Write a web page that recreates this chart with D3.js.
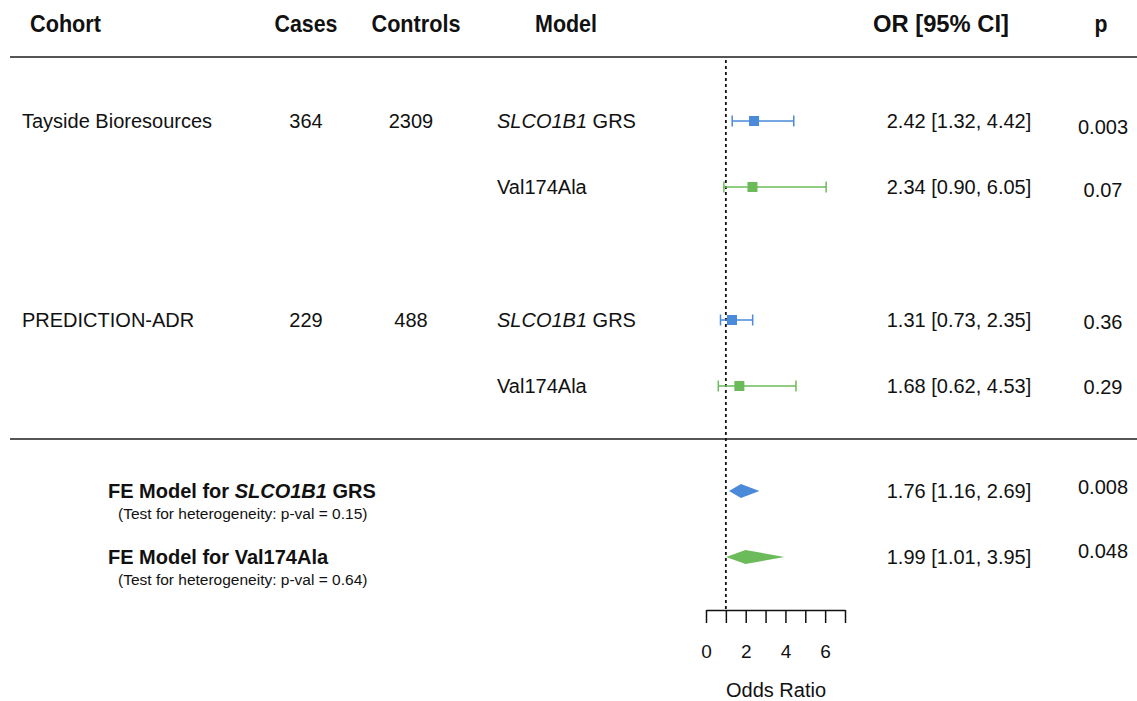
<!DOCTYPE html>
<html>
<head>
<meta charset="utf-8">
<script src="https://cdn.jsdelivr.net/npm/d3@7"></script>
<style>
  html, body { margin: 0; padding: 0; background: #fff; }
  svg { display: block; font-family: "Liberation Sans", Arial, sans-serif; }
</style>
</head>
<body>
<svg id="chart" width="1137" height="701"></svg>
<script>
// Study-level estimates (odds ratios with 95% CI)
const cohorts   = ["Tayside Bioresources", "", "PREDICTION-ADR", ""];
const cases     = ["364", "", "229", ""];
const controls  = ["2309", "", "488", ""];
const models    = ["GRS", "Val174Ala", "GRS", "Val174Ala"];
const orValues  = [2.42, 2.34, 1.31, 1.68];
const ciLower   = [1.32, 0.90, 0.73, 0.62];
const ciUpper   = [4.42, 6.05, 2.35, 4.53];
const pValues   = ["0.003", "0.07", "0.36", "0.29"];

// Fixed-effect pooled estimates
const feModels  = ["GRS", "Val174Ala"];
const feOR      = [1.76, 1.99];
const feLower   = [1.16, 1.01];
const feUpper   = [2.69, 3.95];
const feP       = ["0.008", "0.048"];
const feHetP    = ["0.15", "0.64"];

const axisTicks = [0, 1, 2, 3, 4, 5, 6, 7];
const headers   = ["Cohort", "Cases", "Controls", "Model", "OR [95% CI]", "p"];

const colors = { GRS: "#4a8ad8", Val174Ala: "#6cbb5a" };
const fmt = d3.format(".2f");

const svg = d3.select("#chart");
const x = d3.scaleLinear().domain([0, 7]).range([706, 845]);

const rowY = [121, 187, 320, 386];
const feY  = [491, 557];
const pY   = [127, 190, 322, 387];
const feTextY = [491, 557];
const fePY = [487, 551];

const bodySize = 20;

// Header row: condensed bold labels, each fitted to its column width
const headerPos = [
  { x: 30,   anchor: "start",  w: 71 },
  { x: 306,  anchor: "middle", w: 63 },
  { x: 416,  anchor: "middle", w: 89 },
  { x: 566,  anchor: "middle", w: 62 },
  { x: 941,  anchor: "middle", w: 136 },
  { x: 1101, anchor: "middle", w: 13 }
];
svg.append("g").selectAll("text").data(headers).join("text")
  .attr("x", (d, i) => headerPos[i].x)
  .attr("y", 24)
  .attr("dy", "0.35em")
  .attr("text-anchor", (d, i) => headerPos[i].anchor)
  .attr("textLength", (d, i) => headerPos[i].w)
  .attr("lengthAdjust", "spacingAndGlyphs")
  .attr("font-size", 24)
  .attr("font-weight", "bold")
  .attr("fill", "#111")
  .text(d => d);

// Separator rules
[57, 439].forEach(y => {
  svg.append("line")
    .attr("x1", 10).attr("x2", 1137)
    .attr("y1", y).attr("y2", y)
    .attr("stroke", "#555").attr("stroke-width", 2);
});

// Reference line at OR = 1
svg.append("line")
  .attr("x1", x(1)).attr("x2", x(1))
  .attr("y1", 60).attr("y2", 610)
  .attr("stroke", "#111").attr("stroke-width", 1.8)
  .attr("stroke-dasharray", "3,3");

// Study rows: text columns
const rows = svg.append("g");
const idx = d3.range(orValues.length);

rows.selectAll("text.cohort").data(idx).join("text")
  .attr("class", "cohort")
  .attr("x", 22).attr("y", i => rowY[i]).attr("dy", "0.35em")
  .attr("font-size", bodySize).attr("fill", "#111")
  .text(i => cohorts[i]);

rows.selectAll("text.cases").data(idx).join("text")
  .attr("class", "cases")
  .attr("x", 306).attr("y", i => rowY[i]).attr("dy", "0.35em")
  .attr("text-anchor", "middle")
  .attr("font-size", bodySize).attr("fill", "#111")
  .text(i => cases[i]);

rows.selectAll("text.controls").data(idx).join("text")
  .attr("class", "controls")
  .attr("x", 411).attr("y", i => rowY[i]).attr("dy", "0.35em")
  .attr("text-anchor", "middle")
  .attr("font-size", bodySize).attr("fill", "#111")
  .text(i => controls[i]);

rows.selectAll("text.model").data(idx).join("text")
  .attr("class", "model")
  .attr("x", 497).attr("y", i => rowY[i]).attr("dy", "0.35em")
  .attr("font-size", bodySize).attr("fill", "#111")
  .each(function (i) {
    const t = d3.select(this);
    if (models[i] === "GRS") {
      t.append("tspan").attr("font-style", "italic").text("SLCO1B1");
      t.append("tspan").text(" GRS");
    } else {
      t.text(models[i]);
    }
  });

rows.selectAll("text.or").data(idx).join("text")
  .attr("class", "or")
  .attr("x", 959).attr("y", i => rowY[i]).attr("dy", "0.35em")
  .attr("text-anchor", "middle")
  .attr("font-size", bodySize).attr("fill", "#111")
  .text(i => `${fmt(orValues[i])} [${fmt(ciLower[i])}, ${fmt(ciUpper[i])}]`);

rows.selectAll("text.p").data(idx).join("text")
  .attr("class", "p")
  .attr("x", 1103).attr("y", i => pY[i]).attr("dy", "0.35em")
  .attr("text-anchor", "middle")
  .attr("font-size", bodySize).attr("fill", "#111")
  .text(i => pValues[i]);

// Study rows: confidence intervals and point estimates
const marks = svg.append("g");
idx.forEach(i => {
  const c = colors[models[i]];
  const y = rowY[i];
  marks.append("line")
    .attr("x1", x(ciLower[i])).attr("x2", x(ciUpper[i]))
    .attr("y1", y).attr("y2", y)
    .attr("stroke", c).attr("stroke-width", 1.5);
  [ciLower[i], ciUpper[i]].forEach(v => {
    marks.append("line")
      .attr("x1", x(v)).attr("x2", x(v))
      .attr("y1", y - 5.5).attr("y2", y + 5.5)
      .attr("stroke", c).attr("stroke-width", 1.5);
  });
  marks.append("rect")
    .attr("x", x(orValues[i]) - 5).attr("y", y - 5)
    .attr("width", 10).attr("height", 10)
    .attr("fill", c);
});

// Pooled estimates: diamonds and labels
const fe = svg.append("g");
feModels.forEach((m, i) => {
  const y = feY[i];
  const h = 7;
  fe.append("path")
    .attr("d", `M${x(feLower[i])},${y} L${x(feOR[i])},${y - h} L${x(feUpper[i])},${y} L${x(feOR[i])},${y + h} Z`)
    .attr("fill", colors[m]);

  const lab = fe.append("text")
    .attr("x", 108).attr("y", feTextY[i]).attr("dy", "0.35em")
    .attr("font-size", 20).attr("font-weight", "bold").attr("fill", "#111");
  if (m === "GRS") {
    lab.append("tspan").text("FE Model for ");
    lab.append("tspan").attr("font-style", "italic").text("SLCO1B1");
    lab.append("tspan").text(" GRS");
  } else {
    lab.text("FE Model for " + m);
  }

  fe.append("text")
    .attr("x", 118).attr("y", feTextY[i] + 23).attr("dy", "0.35em")
    .attr("font-size", 15.5).attr("fill", "#111")
    .text(`(Test for heterogeneity: p-val = ${feHetP[i]})`);

  fe.append("text")
    .attr("x", 959).attr("y", feTextY[i]).attr("dy", "0.35em")
    .attr("text-anchor", "middle")
    .attr("font-size", bodySize).attr("fill", "#111")
    .text(`${fmt(feOR[i])} [${fmt(feLower[i])}, ${fmt(feUpper[i])}]`);

  fe.append("text")
    .attr("x", 1103).attr("y", fePY[i]).attr("dy", "0.35em")
    .attr("text-anchor", "middle")
    .attr("font-size", bodySize).attr("fill", "#111")
    .text(feP[i]);
});

// Odds ratio axis
const axis = d3.axisBottom(x)
  .tickValues(axisTicks)
  .tickFormat(d => d % 2 === 0 ? d : "")
  .tickSize(13)
  .tickSizeOuter(0)
  .tickPadding(22);

const ax = svg.append("g")
  .attr("transform", "translate(0,610)")
  .call(axis);
ax.select(".domain").attr("stroke", "#111").attr("stroke-width", 1.5);
ax.selectAll(".tick line").attr("stroke", "#111").attr("stroke-width", 1.5);
ax.selectAll(".tick text")
  .attr("font-size", 19)
  .attr("font-family", "Liberation Sans, Arial, sans-serif")
  .attr("fill", "#111");

svg.append("text")
  .attr("x", 776).attr("y", 690).attr("dy", "0.35em")
  .attr("text-anchor", "middle")
  .attr("font-size", 20).attr("fill", "#111")
  .text("Odds Ratio");
</script>
</body>
</html>
